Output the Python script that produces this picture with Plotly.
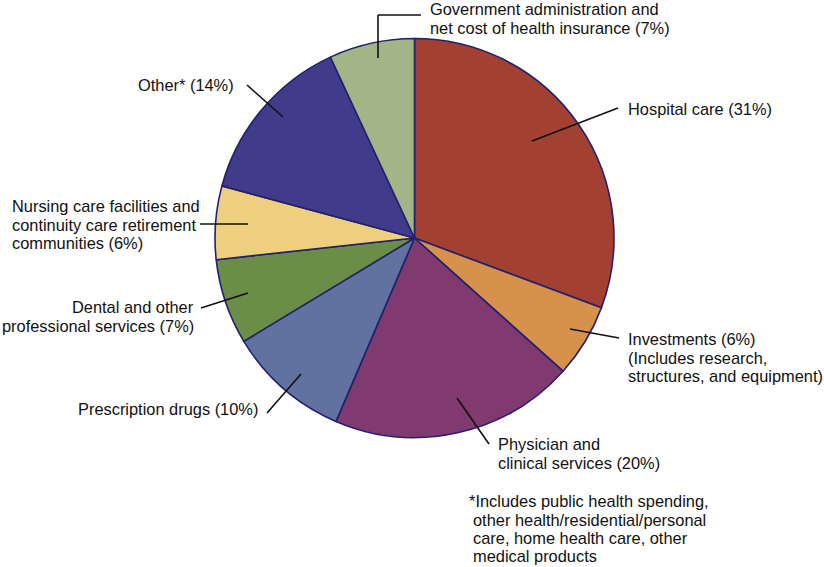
import plotly.graph_objects as go

W, H = 824, 567

# slices, clockwise from 12 o'clock
categories = ['Hospital care', 'Investments', 'Physician and clinical services',
              'Prescription drugs', 'Dental and other professional services',
              'Nursing care facilities and continuity care retirement communities',
              'Other', 'Government administration and net cost of health insurance']
shares = [31, 6, 20, 10, 7, 6, 14, 7]
colors = ['#A24032', '#D6924A', '#803A6F', '#6171A0', '#6A8D47', '#EDCF7D', '#413C8A', '#A3B586']

# label text, one entry per line
label_lines = {
    'gov': ['Government administration and', 'net cost of health insurance (7%)'],
    'hosp': ['Hospital care (31%)'],
    'inv': ['Investments (6%)', '(Includes research,', 'structures, and equipment)'],
    'phys': ['Physician and', 'clinical services (20%)'],
    'other': ['Other* (14%)'],
    'nurs': ['Nursing care facilities and', 'continuity care retirement', 'communities (6%)'],
    'dent': ['Dental and other', 'professional services (7%)'],
    'rx': ['Prescription drugs (10%)'],
}
footnote = ['*Includes public health spending,', 'other health/residential/personal',
            'care, home health care, other', 'medical products']

# pixel helpers
def px(x):
    return x / W


def py(y):
    return 1 - y / H


FS = 16.4
LH = 18.3
cx, cy, r = 414.5, 238, 199.5

fig = go.Figure(go.Pie(
    labels=categories, values=shares, sort=False, direction='clockwise', rotation=0,
    marker=dict(colors=colors, line=dict(color='#23206E', width=1.6)),
    textinfo='none', hoverinfo='label+percent', showlegend=False,
    domain=dict(x=[px(cx - r), px(cx + r)], y=[py(cy + r), py(cy - r)]),
))

# (key, x, first baseline, anchor)
placements = [
    ('gov', 429, 15, 'left'),
    ('hosp', 627, 115, 'left'),
    ('inv', 627, 345, 'left'),
    ('phys', 497, 450, 'left'),
    ('other', 235, 91, 'right'),
    ('nurs', 11, 212, 'left'),
    ('dent', 195, 313, 'right'),
    ('rx', 259, 415, 'right'),
]

font = dict(family='Liberation Sans, Arial, sans-serif', size=FS, color='#111111')


def add_line_text(text, x, baseline, anchor):
    fig.add_annotation(x=px(x), y=py(baseline - 0.35 * FS), xref='paper', yref='paper',
                       text=text, showarrow=False, xanchor=anchor, yanchor='middle',
                       font=font, borderpad=0)


for key, x, b, anchor in placements:
    for i, line in enumerate(label_lines[key]):
        add_line_text(line, x, b + i * LH, anchor)

for i, line in enumerate(footnote):
    add_line_text(line, 468 if i == 0 else 472, 507 + i * 18.3, 'left')

# leader lines (pixel endpoints)
leaders = [
    [(421, 15), (378, 15), (378, 58)],
    [(618, 108), (532, 141)],
    [(619, 338), (570, 329)],
    [(489, 444), (457, 398)],
    [(247, 85), (283, 117)],
    [(200, 224), (248, 224)],
    [(201, 308), (248, 293)],
    [(267, 413), (301, 374)],
]
for pts in leaders:
    for (x0, y0), (x1, y1) in zip(pts[:-1], pts[1:]):
        fig.add_shape(type='line', xref='paper', yref='paper',
                      x0=px(x0), y0=py(y0), x1=px(x1), y1=py(y1),
                      line=dict(color='#111111', width=1.6))

fig.update_layout(width=W, height=H, margin=dict(l=0, r=0, t=0, b=0),
                  paper_bgcolor='white', plot_bgcolor='white')

# drop the default page margin so the figure sits at the window's corner
fig.write_html("out.html", config={'displayModeBar': False},
               post_script="document.body.style.margin='0';")
